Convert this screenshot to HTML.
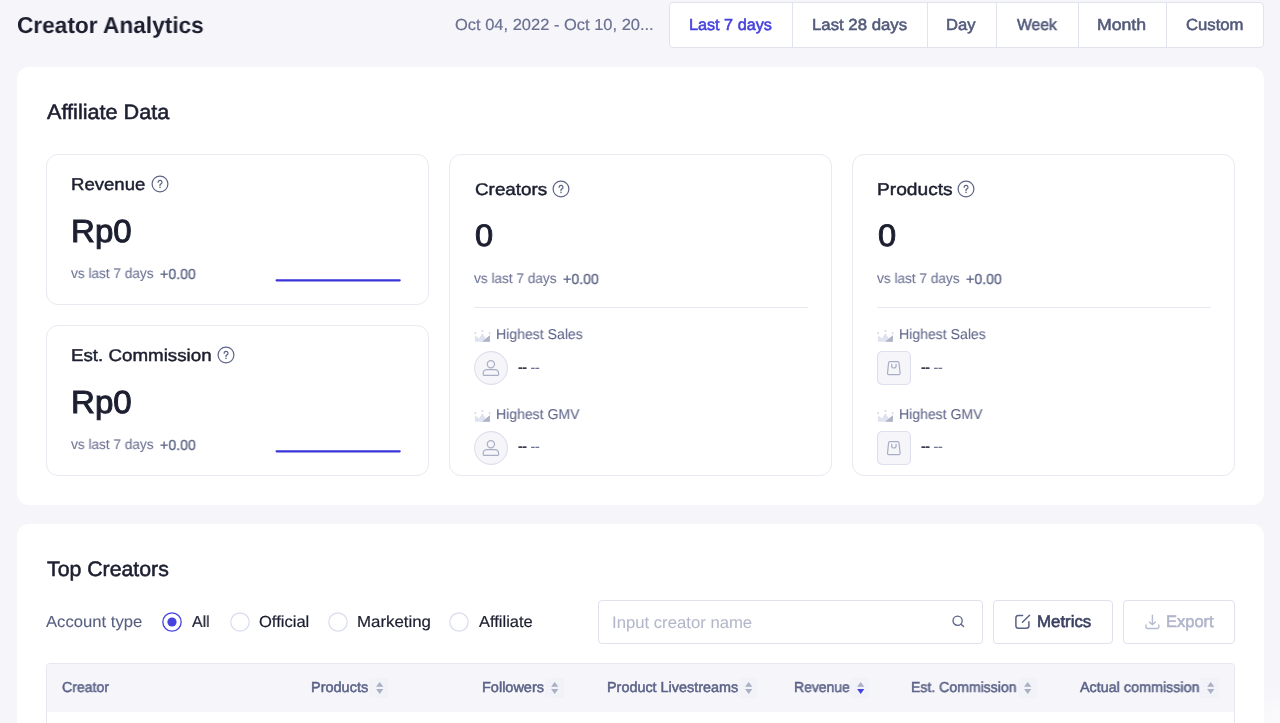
<!DOCTYPE html>
<html><head><meta charset="utf-8"><title>Creator Analytics</title>
<style>
html,body{margin:0;padding:0;}
body{width:1280px;height:723px;overflow:hidden;background:#f6f6fa;position:relative;font-family:"Liberation Sans",Arial,sans-serif;}
.t{position:absolute;white-space:nowrap;line-height:1;transform-origin:0 0;will-change:transform;text-rendering:geometricPrecision;}
.b{position:absolute;}
</style></head><body>
<div class="t" style="left:17.20px;top:14px;font-size:23px;color:#1c1f30;font-weight:700;transform:scaleX(0.9849);">Creator Analytics</div>
<div class="t" style="left:454.70px;top:18px;font-size:16px;color:#6a7090;-webkit-text-stroke:0.2px #6a7090;transform:scaleX(1.0295);">Oct 04, 2022 - Oct 10, 20...</div>
<div class="b" style="left:669px;top:2px;width:595px;height:46px;box-sizing:border-box;border:1px solid #e1e3ef;border-radius:4px;background:#fff;"></div>
<div class="b" style="left:792px;top:2px;width:1px;height:46px;background:#e1e3ef;"></div>
<div class="b" style="left:927px;top:2px;width:1px;height:46px;background:#e1e3ef;"></div>
<div class="b" style="left:996px;top:2px;width:1px;height:46px;background:#e1e3ef;"></div>
<div class="b" style="left:1078px;top:2px;width:1px;height:46px;background:#e1e3ef;"></div>
<div class="b" style="left:1166px;top:2px;width:1px;height:46px;background:#e1e3ef;"></div>
<div class="t" style="left:688.67px;top:18px;font-size:16px;color:#4542dd;-webkit-text-stroke:0.55px #4542dd;transform:scaleX(1.0126);">Last 7 days</div>
<div class="t" style="left:811.64px;top:18px;font-size:16px;color:#535a7b;-webkit-text-stroke:0.55px #535a7b;transform:scaleX(1.0479);">Last 28 days</div>
<div class="t" style="left:946.25px;top:18px;font-size:16px;color:#535a7b;-webkit-text-stroke:0.55px #535a7b;transform:scaleX(1.0356);">Day</div>
<div class="t" style="left:1016.57px;top:18px;font-size:16px;color:#535a7b;-webkit-text-stroke:0.55px #535a7b;transform:scaleX(0.9820);">Week</div>
<div class="t" style="left:1097.20px;top:18px;font-size:16px;color:#535a7b;-webkit-text-stroke:0.55px #535a7b;transform:scaleX(1.1039);">Month</div>
<div class="t" style="left:1186.29px;top:18px;font-size:16px;color:#535a7b;-webkit-text-stroke:0.55px #535a7b;transform:scaleX(1.0425);">Custom</div>
<div class="b" style="left:17px;top:67px;width:1247px;height:438px;background:#fff;border-radius:12px;"></div>
<div class="t" style="left:46.78px;top:102px;font-size:21px;color:#1c1f30;-webkit-text-stroke:0.55px #1c1f30;transform:scaleX(1.0305);">Affiliate Data</div>
<div class="b" style="left:46px;top:154px;width:383px;height:151px;box-sizing:border-box;border:1px solid #e8e9f1;border-radius:12px;background:#fff;"></div>
<div class="t" style="left:71.15px;top:176px;font-size:17px;color:#1c1f30;-webkit-text-stroke:0.45px #1c1f30;transform:scaleX(1.0918);">Revenue</div>
<svg class="b" style="left:151px;top:175px" width="18" height="18" viewBox="0 0 18 18"><circle cx="9" cy="9" r="7.9" fill="none" stroke="#5d6487" stroke-width="1.2"/><path d="M7.1 7.3a1.95 1.95 0 1 1 2.6 1.8c-.45.2-.7.5-.7 1v.7" fill="none" stroke="#5b6284" stroke-width="1.2" stroke-linecap="round"/><circle cx="9" cy="12.4" r=".75" fill="#5b6284"/></svg>
<div class="t" style="left:71.15px;top:215px;font-size:32px;color:#1c1f30;-webkit-text-stroke:1.0px #1c1f30;transform:scaleX(1.0333);">Rp0</div>
<div class="t" style="left:71.35px;top:266px;font-size:14px;color:#6e7495;-webkit-text-stroke:0.1px #6e7495;transform:scaleX(0.9739);">vs last 7 days</div>
<div class="t" style="left:160.15px;top:268px;font-size:14.5px;color:#5b6284;-webkit-text-stroke:0.3px #5b6284;transform:scaleX(0.9804);">+0.00</div>
<svg class="b" style="left:274px;top:277px" width="128" height="7" viewBox="0 0 128 7"><line x1="2.6" y1="3.3" x2="125.7" y2="3.3" stroke="#3a35d8" stroke-width="2.2" stroke-linecap="round"/></svg>
<div class="b" style="left:46px;top:325px;width:383px;height:151px;box-sizing:border-box;border:1px solid #e8e9f1;border-radius:12px;background:#fff;"></div>
<div class="t" style="left:71.15px;top:347px;font-size:17px;color:#1c1f30;-webkit-text-stroke:0.45px #1c1f30;transform:scaleX(1.1026);">Est. Commission</div>
<svg class="b" style="left:217.3px;top:346px" width="18" height="18" viewBox="0 0 18 18"><circle cx="9" cy="9" r="7.9" fill="none" stroke="#5d6487" stroke-width="1.2"/><path d="M7.1 7.3a1.95 1.95 0 1 1 2.6 1.8c-.45.2-.7.5-.7 1v.7" fill="none" stroke="#5b6284" stroke-width="1.2" stroke-linecap="round"/><circle cx="9" cy="12.4" r=".75" fill="#5b6284"/></svg>
<div class="t" style="left:71.15px;top:386px;font-size:32px;color:#1c1f30;-webkit-text-stroke:1.0px #1c1f30;transform:scaleX(1.0333);">Rp0</div>
<div class="t" style="left:71.35px;top:437px;font-size:14px;color:#6e7495;-webkit-text-stroke:0.1px #6e7495;transform:scaleX(0.9739);">vs last 7 days</div>
<div class="t" style="left:160.15px;top:439px;font-size:14.5px;color:#5b6284;-webkit-text-stroke:0.3px #5b6284;transform:scaleX(0.9804);">+0.00</div>
<svg class="b" style="left:274px;top:448px" width="128" height="7" viewBox="0 0 128 7"><line x1="2.6" y1="3.3" x2="125.7" y2="3.3" stroke="#3a35d8" stroke-width="2.2" stroke-linecap="round"/></svg>
<div class="b" style="left:449px;top:154px;width:383px;height:322px;box-sizing:border-box;border:1px solid #e8e9f1;border-radius:12px;background:#fff;"></div>
<div class="t" style="left:474.75px;top:181px;font-size:17px;color:#1c1f30;-webkit-text-stroke:0.45px #1c1f30;transform:scaleX(1.1084);">Creators</div>
<svg class="b" style="left:551.7px;top:179.6px" width="18" height="18" viewBox="0 0 18 18"><circle cx="9" cy="9" r="7.9" fill="none" stroke="#5d6487" stroke-width="1.2"/><path d="M7.1 7.3a1.95 1.95 0 1 1 2.6 1.8c-.45.2-.7.5-.7 1v.7" fill="none" stroke="#5b6284" stroke-width="1.2" stroke-linecap="round"/><circle cx="9" cy="12.4" r=".75" fill="#5b6284"/></svg>
<div class="t" style="left:475.02px;top:220px;font-size:31px;color:#1c1f30;-webkit-text-stroke:0.9px #1c1f30;transform:scaleX(1.0533);">0</div>
<div class="t" style="left:474.05px;top:271px;font-size:14px;color:#6e7495;-webkit-text-stroke:0.1px #6e7495;transform:scaleX(0.9739);">vs last 7 days</div>
<div class="t" style="left:563.15px;top:273px;font-size:14.5px;color:#5b6284;-webkit-text-stroke:0.3px #5b6284;transform:scaleX(0.9804);">+0.00</div>
<div class="b" style="left:474.0px;top:307px;width:334px;height:1px;background:#e6e7ef;"></div>
<svg class="b" style="left:474.2px;top:329.5px" width="17" height="13" viewBox="0 0 17 13"><circle cx="1.2" cy="3.1" r="1.1" fill="#d9dcec"/><circle cx="8.4" cy="0.9" r="1.1" fill="#d9dcec"/><circle cx="15.6" cy="3.1" r="1.1" fill="#d9dcec"/><path d="M0.9 5.2 L5 8.6 L8.4 3.0 L11.6 8.6 L15.9 5.2 L15.9 11.8 L0.9 11.8 Z" fill="#dfe2ef"/><path d="M8.2 11.8 L15.9 5.3 L15.9 11.8 Z" fill="#aeb3c9"/></svg>
<div class="t" style="left:495.74px;top:328px;font-size:14.3px;color:#5d6488;-webkit-text-stroke:0.05px #5d6488;transform:scaleX(0.9838);">Highest Sales</div>
<svg class="b" style="left:474.0px;top:351px" width="34" height="34" viewBox="0 0 34 34"><circle cx="17" cy="17" r="16.4" fill="#f5f5fa" stroke="#dde0ee" stroke-width="1.1"/><circle cx="16.9" cy="13.2" r="3.6" fill="none" stroke="#a9aec5" stroke-width="1.2"/><path d="M12.8 18.6 h8.2 a3.6 3.6 0 0 1 3.6 3.6 v1.4 a.8 .8 0 0 1 -.8 .8 h-13.8 a.8 .8 0 0 1 -.8 -.8 v-1.4 a3.6 3.6 0 0 1 3.6 -3.6 z" fill="none" stroke="#a9aec5" stroke-width="1.2"/></svg>
<div class="t" style="left:517.50px;top:359px;font-size:14px;color:#1c1f30;transform:translateY(0.80px);"><span style="color:#1c1f30;-webkit-text-stroke:0.3px #1c1f30;letter-spacing:-0.4px">--</span> <span style="color:#5d6488;-webkit-text-stroke:0.2px #5d6488;letter-spacing:-0.2px">--</span></div>
<svg class="b" style="left:474.2px;top:409.5px" width="17" height="13" viewBox="0 0 17 13"><circle cx="1.2" cy="3.1" r="1.1" fill="#d9dcec"/><circle cx="8.4" cy="0.9" r="1.1" fill="#d9dcec"/><circle cx="15.6" cy="3.1" r="1.1" fill="#d9dcec"/><path d="M0.9 5.2 L5 8.6 L8.4 3.0 L11.6 8.6 L15.9 5.2 L15.9 11.8 L0.9 11.8 Z" fill="#dfe2ef"/><path d="M8.2 11.8 L15.9 5.3 L15.9 11.8 Z" fill="#aeb3c9"/></svg>
<div class="t" style="left:495.74px;top:408px;font-size:14.3px;color:#5d6488;-webkit-text-stroke:0.05px #5d6488;transform:scaleX(0.9819);">Highest GMV</div>
<svg class="b" style="left:474.0px;top:430.5px" width="34" height="34" viewBox="0 0 34 34"><circle cx="17" cy="17" r="16.4" fill="#f5f5fa" stroke="#dde0ee" stroke-width="1.1"/><circle cx="16.9" cy="13.2" r="3.6" fill="none" stroke="#a9aec5" stroke-width="1.2"/><path d="M12.8 18.6 h8.2 a3.6 3.6 0 0 1 3.6 3.6 v1.4 a.8 .8 0 0 1 -.8 .8 h-13.8 a.8 .8 0 0 1 -.8 -.8 v-1.4 a3.6 3.6 0 0 1 3.6 -3.6 z" fill="none" stroke="#a9aec5" stroke-width="1.2"/></svg>
<div class="t" style="left:517.50px;top:439px;font-size:14px;color:#1c1f30;transform:translateY(0.30px);"><span style="color:#1c1f30;-webkit-text-stroke:0.3px #1c1f30;letter-spacing:-0.4px">--</span> <span style="color:#5d6488;-webkit-text-stroke:0.2px #5d6488;letter-spacing:-0.2px">--</span></div>
<div class="b" style="left:852px;top:154px;width:383px;height:322px;box-sizing:border-box;border:1px solid #e8e9f1;border-radius:12px;background:#fff;"></div>
<div class="t" style="left:876.63px;top:181px;font-size:17px;color:#1c1f30;-webkit-text-stroke:0.45px #1c1f30;transform:scaleX(1.1282);">Products</div>
<svg class="b" style="left:957.0px;top:179.6px" width="18" height="18" viewBox="0 0 18 18"><circle cx="9" cy="9" r="7.9" fill="none" stroke="#5d6487" stroke-width="1.2"/><path d="M7.1 7.3a1.95 1.95 0 1 1 2.6 1.8c-.45.2-.7.5-.7 1v.7" fill="none" stroke="#5b6284" stroke-width="1.2" stroke-linecap="round"/><circle cx="9" cy="12.4" r=".75" fill="#5b6284"/></svg>
<div class="t" style="left:878.02px;top:220px;font-size:31px;color:#1c1f30;-webkit-text-stroke:0.9px #1c1f30;transform:scaleX(1.0533);">0</div>
<div class="t" style="left:877.05px;top:271px;font-size:14px;color:#6e7495;-webkit-text-stroke:0.1px #6e7495;transform:scaleX(0.9739);">vs last 7 days</div>
<div class="t" style="left:966.15px;top:273px;font-size:14.5px;color:#5b6284;-webkit-text-stroke:0.3px #5b6284;transform:scaleX(0.9804);">+0.00</div>
<div class="b" style="left:877.0px;top:307px;width:334px;height:1px;background:#e6e7ef;"></div>
<svg class="b" style="left:877.2px;top:329.5px" width="17" height="13" viewBox="0 0 17 13"><circle cx="1.2" cy="3.1" r="1.1" fill="#d9dcec"/><circle cx="8.4" cy="0.9" r="1.1" fill="#d9dcec"/><circle cx="15.6" cy="3.1" r="1.1" fill="#d9dcec"/><path d="M0.9 5.2 L5 8.6 L8.4 3.0 L11.6 8.6 L15.9 5.2 L15.9 11.8 L0.9 11.8 Z" fill="#dfe2ef"/><path d="M8.2 11.8 L15.9 5.3 L15.9 11.8 Z" fill="#aeb3c9"/></svg>
<div class="t" style="left:898.74px;top:328px;font-size:14.3px;color:#5d6488;-webkit-text-stroke:0.05px #5d6488;transform:scaleX(0.9838);">Highest Sales</div>
<svg class="b" style="left:877.0px;top:351px" width="34" height="34" viewBox="0 0 34 34"><rect x="0.55" y="0.55" width="32.9" height="32.9" rx="4.5" fill="#f5f5fa" stroke="#dde0ee" stroke-width="1.1"/><path d="M12.8 10.6 H20.8 a1.2 1.2 0 0 1 1.2 1.1 L23.1 22.3 a1.2 1.2 0 0 1 -1.2 1.3 H11.7 a1.2 1.2 0 0 1 -1.2 -1.3 L11.6 11.7 a1.2 1.2 0 0 1 1.2 -1.1 Z" fill="none" stroke="#a9aec5" stroke-width="1.2" stroke-linejoin="round"/><path d="M14.7 13.3 v1.5 a2.2 2.2 0 0 0 4.4 0 v-1.5" fill="none" stroke="#a9aec5" stroke-width="1.2" stroke-linecap="round"/></svg>
<div class="t" style="left:920.50px;top:359px;font-size:14px;color:#1c1f30;transform:translateY(0.80px);"><span style="color:#1c1f30;-webkit-text-stroke:0.3px #1c1f30;letter-spacing:-0.4px">--</span> <span style="color:#5d6488;-webkit-text-stroke:0.2px #5d6488;letter-spacing:-0.2px">--</span></div>
<svg class="b" style="left:877.2px;top:409.5px" width="17" height="13" viewBox="0 0 17 13"><circle cx="1.2" cy="3.1" r="1.1" fill="#d9dcec"/><circle cx="8.4" cy="0.9" r="1.1" fill="#d9dcec"/><circle cx="15.6" cy="3.1" r="1.1" fill="#d9dcec"/><path d="M0.9 5.2 L5 8.6 L8.4 3.0 L11.6 8.6 L15.9 5.2 L15.9 11.8 L0.9 11.8 Z" fill="#dfe2ef"/><path d="M8.2 11.8 L15.9 5.3 L15.9 11.8 Z" fill="#aeb3c9"/></svg>
<div class="t" style="left:898.74px;top:408px;font-size:14.3px;color:#5d6488;-webkit-text-stroke:0.05px #5d6488;transform:scaleX(0.9819);">Highest GMV</div>
<svg class="b" style="left:877.0px;top:430.5px" width="34" height="34" viewBox="0 0 34 34"><rect x="0.55" y="0.55" width="32.9" height="32.9" rx="4.5" fill="#f5f5fa" stroke="#dde0ee" stroke-width="1.1"/><path d="M12.8 10.6 H20.8 a1.2 1.2 0 0 1 1.2 1.1 L23.1 22.3 a1.2 1.2 0 0 1 -1.2 1.3 H11.7 a1.2 1.2 0 0 1 -1.2 -1.3 L11.6 11.7 a1.2 1.2 0 0 1 1.2 -1.1 Z" fill="none" stroke="#a9aec5" stroke-width="1.2" stroke-linejoin="round"/><path d="M14.7 13.3 v1.5 a2.2 2.2 0 0 0 4.4 0 v-1.5" fill="none" stroke="#a9aec5" stroke-width="1.2" stroke-linecap="round"/></svg>
<div class="t" style="left:920.50px;top:439px;font-size:14px;color:#1c1f30;transform:translateY(0.30px);"><span style="color:#1c1f30;-webkit-text-stroke:0.3px #1c1f30;letter-spacing:-0.4px">--</span> <span style="color:#5d6488;-webkit-text-stroke:0.2px #5d6488;letter-spacing:-0.2px">--</span></div>
<div class="b" style="left:17px;top:524px;width:1247px;height:220px;background:#fff;border-radius:12px;"></div>
<div class="t" style="left:46.78px;top:559px;font-size:21px;color:#1c1f30;-webkit-text-stroke:0.55px #1c1f30;transform:scaleX(1.0136);">Top Creators</div>
<div class="t" style="left:46.15px;top:615px;font-size:16px;color:#585f80;-webkit-text-stroke:0.1px #585f80;transform:scaleX(1.0410);">Account type</div>
<svg class="b" style="left:162px;top:612px" width="20" height="20" viewBox="0 0 20 20"><circle cx="10" cy="10" r="9.2" fill="#fff" stroke="#4542dd" stroke-width="1.3"/><circle cx="10" cy="10" r="4.6" fill="#4542dd"/></svg>
<div class="t" style="left:192.10px;top:615px;font-size:16px;color:#1c1f30;-webkit-text-stroke:0.2px #1c1f30;transform:scaleX(0.9870);">All</div>
<svg class="b" style="left:229.5px;top:612px" width="20" height="20" viewBox="0 0 20 20"><circle cx="10" cy="10" r="9.2" fill="#fff" stroke="#d9dcef" stroke-width="1.2"/></svg>
<div class="t" style="left:258.90px;top:615px;font-size:16px;color:#1c1f30;-webkit-text-stroke:0.2px #1c1f30;transform:scaleX(1.0341);">Official</div>
<svg class="b" style="left:328px;top:612px" width="20" height="20" viewBox="0 0 20 20"><circle cx="10" cy="10" r="9.2" fill="#fff" stroke="#d9dcef" stroke-width="1.2"/></svg>
<div class="t" style="left:357.05px;top:615px;font-size:16px;color:#1c1f30;-webkit-text-stroke:0.2px #1c1f30;transform:scaleX(1.0532);">Marketing</div>
<svg class="b" style="left:449px;top:612px" width="20" height="20" viewBox="0 0 20 20"><circle cx="10" cy="10" r="9.2" fill="#fff" stroke="#d9dcef" stroke-width="1.2"/></svg>
<div class="t" style="left:479.40px;top:615px;font-size:16px;color:#1c1f30;-webkit-text-stroke:0.2px #1c1f30;transform:scaleX(1.0289);">Affiliate</div>
<div class="b" style="left:598px;top:600px;width:385px;height:44px;box-sizing:border-box;border:1px solid #dfe1ee;border-radius:4px;background:#fff;"></div>
<div class="t" style="left:612.41px;top:615px;font-size:16.5px;color:#b3b7c9;-webkit-text-stroke:0.05px #b3b7c9;transform:scaleX(1.0119);">Input creator name</div>
<svg class="b" style="left:950px;top:613px" width="16" height="16" viewBox="0 0 16 16"><circle cx="7.6" cy="7.8" r="4.6" fill="none" stroke="#5b6284" stroke-width="1.3"/><path d="M11 11.2 L13.6 13.6" stroke="#5b6284" stroke-width="1.3" stroke-linecap="round"/></svg>
<div class="b" style="left:993px;top:600px;width:120px;height:44px;box-sizing:border-box;border:1px solid #dfe1ee;border-radius:4px;background:#fff;"></div>
<svg class="b" style="left:1012px;top:612px" width="20" height="20" viewBox="0 0 20 20"><path d="M10.6 3.4 H6.4 a2.5 2.5 0 0 0 -2.5 2.5 v7.9 a2.5 2.5 0 0 0 2.5 2.5 h8 a2.5 2.5 0 0 0 2.5 -2.5 V9.7" fill="none" stroke="#5b6284" stroke-width="1.5" stroke-linecap="round"/><path d="M10.4 10.2 L17.6 3.2" stroke="#5b6284" stroke-width="1.5" stroke-linecap="round"/></svg>
<div class="t" style="left:1036.69px;top:614px;font-size:16.5px;color:#3a4060;-webkit-text-stroke:0.6px #3a4060;transform:scaleX(1.0206);">Metrics</div>
<div class="b" style="left:1123px;top:600px;width:112px;height:44px;box-sizing:border-box;border:1px solid #dfe1ee;border-radius:4px;background:#fff;"></div>
<svg class="b" style="left:1142px;top:612px" width="20" height="20" viewBox="0 0 20 20"><path d="M10.4 3.2 V12.8 M7.4 10 L10.4 12.8 L13.4 10" fill="none" stroke="#b6bbcf" stroke-width="1.4" stroke-linecap="round" stroke-linejoin="round"/><path d="M4 13 v2 a1.5 1.5 0 0 0 1.5 1.5 h9.8 a1.5 1.5 0 0 0 1.5 -1.5 v-2" fill="none" stroke="#b6bbcf" stroke-width="1.4" stroke-linecap="round"/></svg>
<div class="t" style="left:1166.07px;top:614px;font-size:16.5px;color:#b0b5ca;-webkit-text-stroke:0.55px #b0b5ca;">Export</div>
<div class="b" style="left:1180px;top:640px;width:100px;height:83px;background:radial-gradient(ellipse 45px 40px at 100% 100%, rgba(255,255,255,0.45), rgba(255,255,255,0));"></div>
<div class="b" style="left:46px;top:663px;width:1189px;height:80px;box-sizing:border-box;border:1px solid #e6e7ef;border-radius:4px 4px 0 0;background:#fff;"></div>
<div class="b" style="left:47px;top:664px;width:1187px;height:48px;background:#f5f5fa;border-radius:3px 3px 0 0;"></div>
<div class="t" style="left:62.14px;top:681px;font-size:14.4px;color:#5b6286;-webkit-text-stroke:0.5px #5b6286;transform:scaleX(0.9776);">Creator</div>
<div class="t" style="left:310.94px;top:681px;font-size:14.4px;color:#5b6286;-webkit-text-stroke:0.5px #5b6286;transform:scaleX(1.0072);">Products</div>
<div class="b" style="left:369.3px;top:678px;width:19px;height:20px;background:#f2f3f8;"></div>
<svg class="b" style="left:375.7px;top:681px" width="8" height="14" viewBox="0 0 8 14"><path d="M0.1 5.8 L3.7 1.0 L7.3 5.8 Z" fill="#a9afc4"/><path d="M0.1 8.1 L3.7 13.0 L7.3 8.1 Z" fill="#a9afc4"/></svg>
<div class="t" style="left:482.24px;top:681px;font-size:14.4px;color:#5b6286;-webkit-text-stroke:0.5px #5b6286;transform:scaleX(1.0069);">Followers</div>
<div class="b" style="left:544.7px;top:678px;width:19px;height:20px;background:#f2f3f8;"></div>
<svg class="b" style="left:551.1px;top:681px" width="8" height="14" viewBox="0 0 8 14"><path d="M0.1 5.8 L3.7 1.0 L7.3 5.8 Z" fill="#a9afc4"/><path d="M0.1 8.1 L3.7 13.0 L7.3 8.1 Z" fill="#a9afc4"/></svg>
<div class="t" style="left:606.85px;top:681px;font-size:14.4px;color:#5b6286;-webkit-text-stroke:0.5px #5b6286;">Product Livestreams</div>
<div class="b" style="left:738.3px;top:678px;width:19px;height:20px;background:#f2f3f8;"></div>
<svg class="b" style="left:744.6999999999999px;top:681px" width="8" height="14" viewBox="0 0 8 14"><path d="M0.1 5.8 L3.7 1.0 L7.3 5.8 Z" fill="#a9afc4"/><path d="M0.1 8.1 L3.7 13.0 L7.3 8.1 Z" fill="#a9afc4"/></svg>
<div class="t" style="left:793.87px;top:681px;font-size:14.4px;color:#5b6286;-webkit-text-stroke:0.5px #5b6286;transform:scaleX(0.9702);">Revenue</div>
<div class="b" style="left:850.2px;top:678px;width:19px;height:20px;background:#f2f3f8;"></div>
<svg class="b" style="left:856.6px;top:681px" width="8" height="14" viewBox="0 0 8 14"><path d="M0.1 5.8 L3.7 1.0 L7.3 5.8 Z" fill="#a9afc4"/><path d="M0.1 8.1 L3.7 13.0 L7.3 8.1 Z" fill="#4542dd"/></svg>
<div class="t" style="left:911.17px;top:681px;font-size:14.4px;color:#5b6286;-webkit-text-stroke:0.5px #5b6286;transform:scaleX(0.9772);">Est. Commission</div>
<div class="b" style="left:1017.5px;top:678px;width:19px;height:20px;background:#f2f3f8;"></div>
<svg class="b" style="left:1023.9px;top:681px" width="8" height="14" viewBox="0 0 8 14"><path d="M0.1 5.8 L3.7 1.0 L7.3 5.8 Z" fill="#a9afc4"/><path d="M0.1 8.1 L3.7 13.0 L7.3 8.1 Z" fill="#a9afc4"/></svg>
<div class="t" style="left:1080.25px;top:681px;font-size:14.4px;color:#5b6286;-webkit-text-stroke:0.5px #5b6286;transform:scaleX(0.9962);">Actual commission</div>
<div class="b" style="left:1200.4px;top:678px;width:19px;height:20px;background:#f2f3f8;"></div>
<svg class="b" style="left:1206.8000000000002px;top:681px" width="8" height="14" viewBox="0 0 8 14"><path d="M0.1 5.8 L3.7 1.0 L7.3 5.8 Z" fill="#a9afc4"/><path d="M0.1 8.1 L3.7 13.0 L7.3 8.1 Z" fill="#a9afc4"/></svg>
</body></html>
